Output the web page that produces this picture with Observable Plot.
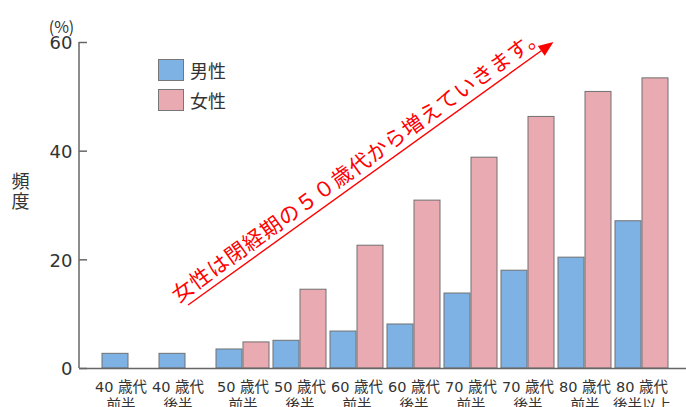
<!DOCTYPE html>
<html><head><meta charset="utf-8">
<script src="https://cdn.jsdelivr.net/npm/d3@7"></script>
<script src="https://cdn.jsdelivr.net/npm/@observablehq/plot@0.6"></script>
<style>
body{margin:0;background:#fff;}
#wrap{position:relative;width:686px;height:407px;overflow:hidden;font-family:"Noto Sans CJK JP",sans-serif;}
.legend{position:absolute;left:158px;top:55px;}
.item{display:flex;align-items:center;height:30px;font-size:18px;color:#333;}
.sw{width:26px;height:22px;border:1px solid #777;margin-right:6px;box-sizing:border-box;}
</style>
</head><body>
<div id="wrap"></div>
<script>
const categories = ["40歳代前半","40歳代後半","50歳代前半","50歳代後半","60歳代前半","60歳代後半","70歳代前半","70歳代後半","80歳代前半","80歳代後半以上"];
const labelTop = ["40 歳代","40 歳代","50 歳代","50 歳代","60 歳代","60 歳代","70 歳代","70 歳代","80 歳代","80 歳代"];
const labelBottom = ["前半","後半","前半","後半","前半","後半","前半","後半","前半","後半以上"];
const male = [2.7, 2.7, 3.5, 5.1, 6.8, 8.1, 13.8, 18.0, 20.4, 27.1];
const female = [0, 0, 4.8, 14.5, 22.6, 30.9, 38.8, 46.3, 50.9, 53.4];
const series = ["男性","女性"];
const colors = ["#7fb2e4","#eaaab1"];
const yTicks = [0, 20, 40, 60];
const annotationText = "女性は閉経期の５０歳代から増えていきます。";
const arrowFrom = {index: 1.51, value: 11.6};
const arrowTo = {index: 7.92, value: 60};

const rows = [];
categories.forEach((c, i) => {
  rows.push({cat: c, sex: series[0], value: male[i]});
  rows.push({cat: c, sex: series[1], value: female[i]});
});
const labelText = d => { const i = categories.indexOf(d); return labelTop[i] + "\n" + labelBottom[i]; };

const W = 686, H = 407, ML = 79, MR = 0, MT = 42, MB = 39;
const numFont = "DejaVu Sans, Noto Sans CJK JP, sans-serif";

function axisLine(index, scales, values, dims) {
  const [d0, d1] = scales.y.domain();
  return d3.create("svg:line")
    .attr("x1", dims.marginLeft).attr("x2", dims.marginLeft)
    .attr("y1", scales.y(d1)).attr("y2", scales.y(d0))
    .attr("stroke", "#666").attr("stroke-width", 1.5).node();
}

function annotation(index, scales) {
  const x = scales.x, y = scales.y;
  const step = x(categories[1]) - x(categories[0]);
  const px = i => x(categories[0]) + i * step;
  const x0 = px(arrowFrom.index), y0 = y(arrowFrom.value);
  const x1 = px(arrowTo.index), y1 = y(arrowTo.value);
  const a = Math.atan2(y1 - y0, x1 - x0);
  const ux = Math.cos(a), uy = Math.sin(a);
  const nx = Math.sin(a), ny = -Math.cos(a);
  const len = Math.hypot(x1 - x0, y1 - y0);
  const head = 15, hw = 6;
  const g = d3.create("svg:g");
  g.append("line")
    .attr("x1", x0).attr("y1", y0)
    .attr("x2", x1 - ux * head).attr("y2", y1 - uy * head)
    .attr("stroke", "#ff0000").attr("stroke-width", 1.4);
  const bx = x1 - ux * head, by = y1 - uy * head;
  g.append("path")
    .attr("d", `M${x1},${y1}L${bx + nx * hw},${by + ny * hw}L${bx - nx * hw},${by - ny * hw}Z`)
    .attr("fill", "#ff0000");
  const along = len * 0.49, off = 16;
  const tx = x0 + ux * along + nx * off, ty = y0 + uy * along + ny * off;
  g.append("text")
    .attr("transform", `translate(${tx},${ty}) rotate(${a * 180 / Math.PI})`)
    .attr("text-anchor", "middle")
    .attr("dominant-baseline", "central")
    .attr("fill", "#ff0000")
    .attr("font-size", 21)
    .attr("letter-spacing", "0.8px")
    .attr("font-family", "Noto Sans CJK JP")
    .text(annotationText);
  return g.node();
}

const chart = Plot.plot({
  width: W, height: H,
  marginLeft: ML, marginRight: MR, marginTop: MT, marginBottom: MB,
  style: {fontFamily: "Noto Sans CJK JP", color: "#333", background: "#fff"},
  x: {domain: categories, range: [97.2, 672.8], paddingInner: 0.0625, paddingOuter: 0.03125, axis: null},
  y: {domain: [0, 60], axis: null},
  marks: [
    Plot.barY(rows.filter(d => d.sex === series[0] && d.value > 0), {x: "cat", y: "value", fill: colors[0], stroke: "#707070", strokeWidth: 1, insetRight: 27}),
    Plot.barY(rows.filter(d => d.sex === series[1] && d.value > 0), {x: "cat", y: "value", fill: colors[1], stroke: "#707070", strokeWidth: 1, insetLeft: 27}),
    Plot.ruleY([0], {stroke: "#666", strokeWidth: 1.5}),
    Plot.tickY(yTicks, {y: d => d, stroke: "#666", strokeWidth: 1.5, insetRight: W - ML - MR - 8}),
    axisLine,
    Plot.text(yTicks, {y: d => d, text: d => String(d), frameAnchor: "left", textAnchor: "end", dx: -7, dy: 1, fontSize: 18, fill: "#333", fontFamily: numFont}),
    Plot.text(categories.slice(0, 2), {x: d => d, text: labelText, frameAnchor: "bottom", lineAnchor: "top", textAnchor: "middle", dy: 11, dx: -8, fontSize: 14.5, lineHeight: 1.22, fill: "#333", fontFamily: numFont}),
    Plot.text(categories.slice(2), {x: d => d, text: labelText, frameAnchor: "bottom", lineAnchor: "top", textAnchor: "middle", dy: 11, fontSize: 14.5, lineHeight: 1.22, fill: "#333", fontFamily: numFont}),
    Plot.text(["(%)"], {frameAnchor: "top-left", textAnchor: "middle", lineAnchor: "middle", dx: -18, dy: -15, fontSize: 16, fill: "#333"}),
    Plot.text(["頻\n度"], {frameAnchor: "left", textAnchor: "middle", lineAnchor: "middle", dx: -59, dy: -14, fontSize: 18, lineHeight: 1.13, fill: "#333"}),
    annotation
  ]
});

const wrap = document.getElementById("wrap");
wrap.appendChild(chart);
const legend = document.createElement("div");
legend.className = "legend";
series.forEach((s, i) => {
  const item = document.createElement("div");
  item.className = "item";
  const sw = document.createElement("div");
  sw.className = "sw";
  sw.style.background = colors[i];
  const t = document.createElement("span");
  t.textContent = s;
  item.appendChild(sw); item.appendChild(t);
  legend.appendChild(item);
});
wrap.appendChild(legend);
</script>
</body></html>
